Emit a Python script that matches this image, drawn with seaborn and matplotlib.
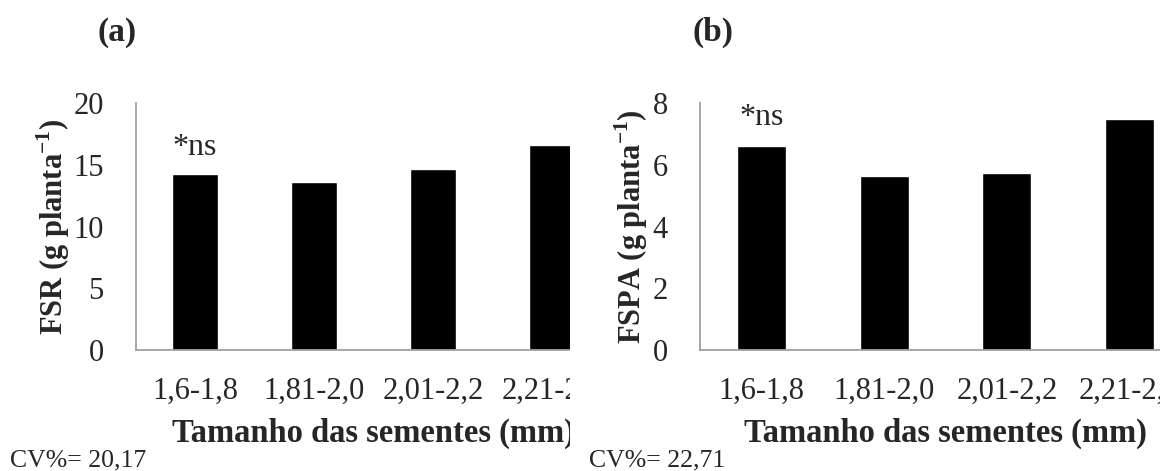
import numpy as np
import pandas as pd
import seaborn as sns
import matplotlib.pyplot as plt
from matplotlib.transforms import Bbox, TransformedBbox

# data
sizes = ['1,6-1,8', '1,81-2,0', '2,01-2,2', '2,21-2,4']
fsr = [14.24, 13.59, 14.64, 16.59]
fspa = [6.62, 5.64, 5.73, 7.48]
cv_a = 'CV%= 20,17'
cv_b = 'CV%= 22,71'

sns.set_style('white')
plt.rcParams['font.family'] = ['Liberation Serif', 'DejaVu Serif']
plt.rcParams['mathtext.fontset'] = 'custom'
plt.rcParams['mathtext.rm'] = 'Liberation Serif'
plt.rcParams['mathtext.bf'] = 'Liberation Serif:bold'

W, H = 1160, 471
fig = plt.figure(figsize=(W / 100, H / 100), dpi=100)

grey = '#a0a0a0'
y_top, y_bot = 103.3, 350.0


def panel(x0, slot, bw, vals, ymax, ystep, ylab, ylab_x, tag, tag_x, ns_y, cv, cv_x, clip_x=None):
    ax = fig.add_axes([x0 / W, (H - y_bot) / H, 4 * slot / W, (y_bot - y_top) / H])
    df = pd.DataFrame({'size': sizes, 'val': vals})
    sns.barplot(data=df, x='size', y='val', color='black', width=bw,
                saturation=1, ax=ax)
    ax.set_xlim(-0.5, 3.5)
    ax.set_ylim(0, ymax)
    ax.set_yticks(np.arange(0, ymax + 0.01, ystep))
    for s in ['top', 'right']:
        ax.spines[s].set_visible(False)
    for s in ['left', 'bottom']:
        ax.spines[s].set_color(grey)
        ax.spines[s].set_linewidth(1.3)
    ax.tick_params(axis='y', length=8, width=1.3, color=grey, labelsize=22, pad=15)
    ax.tick_params(axis='x', length=0, labelsize=22, pad=19)
    ax.set_xlabel('Tamanho das sementes (mm)', fontsize=23.5, fontweight='bold', labelpad=9)
    ax.set_ylabel(ylab, fontsize=22, fontweight='bold')
    ax.yaxis.set_label_coords(-(x0 - ylab_x) / (4 * slot), 0.5)
    ax.text(0, ns_y, '*ns', ha='center', va='baseline', fontsize=23)
    fig.text(tag_x / W, 1 - 32.5 / H, tag, ha='center', va='center', fontsize=24, fontweight='bold')
    fig.text(cv_x / W, 1 - 466.7 / H, cv, ha='left', va='baseline', fontsize=18.5)
    if clip_x is not None:
        cb = TransformedBbox(Bbox([[0, 0], [clip_x / W, 1]]), fig.transFigure)
        for art in ax.get_children() + ax.get_xticklabels() + [ax.xaxis.label]:
            art.set_clip_box(cb)
            art.set_clip_on(True)
    return ax


panel(135.5, 119, 0.39, fsr, 20, 5, r'FSR (g planta$^{\mathbf{-1}}$)', 72, '(a)', 116.7,
      15.81, cv_a, 10, clip_x=570)
panel(700, 122.7, 0.40, fspa, 8, 2, r'FSPA (g planta$^{\mathbf{-1}}$)', 650, '(b)', 713,
      7.29, cv_b, 589)

fig.savefig('out.png', dpi=100)
